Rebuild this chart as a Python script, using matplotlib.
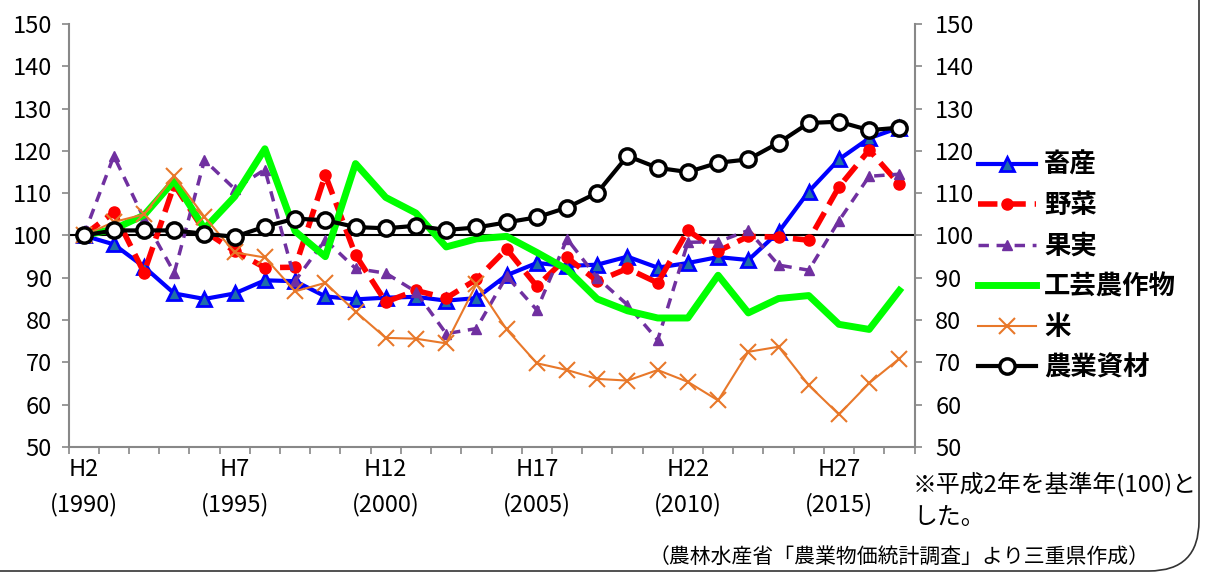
import numpy as np
import matplotlib
matplotlib.use('Agg')
import matplotlib.pyplot as plt
from matplotlib.patches import FancyBboxPatch
from matplotlib.transforms import IdentityTransform

years = list(range(1990, 2018))
xlabels = ['H2\n(1990)', 'H7\n(1995)', 'H12\n(2000)', 'H17\n(2005)', 'H22\n(2010)', 'H27\n(2015)']

chikusan = [100, 97.9, 92.6, 86.3, 85.0, 86.3, 89.4, 89.2, 85.6, 84.9, 85.3, 85.5, 84.6, 85.2,
            90.6, 93.5, 92.8, 93.1, 95.0, 92.4, 93.5, 94.9, 94.2, 100.8, 110.4, 118.0, 123.0, 125.5]
yasai = [100, 105.5, 91.2, 112.0, 101.0, 96.3, 92.4, 92.5, 114.3, 95.4, 84.3, 87.0, 85.2, 89.6,
         96.8, 88.0, 94.8, 89.2, 92.2, 88.8, 101.2, 96.3, 99.8, 99.6, 98.9, 111.5, 120.2, 112.1]
kajitsu = [100, 118.8, 104.0, 91.2, 117.8, 111.0, 115.6, 89.3, 99.0, 92.2, 91.1, 86.7, 76.8, 78.0,
           90.4, 82.4, 99.2, 90.0, 83.6, 75.3, 98.4, 98.5, 101.2, 93.0, 91.8, 103.5, 114.0, 114.5]
kougei = [100, 101.5, 104.8, 113.0, 101.6, 109.2, 120.5, 101.0, 95.0, 117.0, 109.0, 105.3, 97.3, 99.2,
          99.8, 96.0, 92.0, 85.0, 82.2, 80.5, 80.5, 90.6, 81.7, 85.1, 85.8, 79.0, 77.8, 87.0]
kome = [100, 103.2, 105.0, 114.0, 104.4, 96.0, 94.8, 86.8, 88.8, 82.0, 75.8, 75.6, 74.5, 88.5,
        77.8, 69.8, 68.2, 66.1, 65.7, 68.2, 65.4, 61.0, 72.5, 73.7, 64.6, 57.7, 65.1, 70.9]
shizai = [100, 101.2, 101.2, 101.2, 100.4, 99.7, 102.1, 104.0, 103.6, 102.0, 101.7, 102.3, 101.3, 101.9,
          103.1, 104.3, 106.6, 110.1, 118.8, 116.0, 115.0, 117.2, 118.0, 121.9, 126.6, 126.9, 124.9, 125.5]

jp_font = ['Noto Sans CJK JP', 'DejaVu Sans']
plt.rcParams['font.family'] = jp_font

fig = plt.figure(figsize=(12.05, 5.72), dpi=100)
ax = fig.add_axes([68.5 / 1205, 125 / 572, 846 / 1205, 423 / 572])
x = np.arange(len(years))

ax.axhline(100, color='black', lw=1.5, zorder=1)
ax.plot(x, chikusan, color='#0000FF', lw=3, marker='^', ms=10, mfc='#1f6fa8', mec='#0000FF', mew=2,
        label='畜産', zorder=3)
ax.plot(x, yasai, color='#FF0000', lw=4, dashes=(3.5, 1.6), marker='o', ms=8, mfc='#FF0000', mec='#FF0000',
        label='野菜', zorder=4)
ax.plot(x, kajitsu, color='#7030A0', lw=2.5, dashes=(3, 2.2), marker='^', ms=7, mfc='#7030A0', mec='#7030A0',
        label='果実', zorder=5)
ax.plot(x, kougei, color='#00FF00', lw=5, label='工芸農作物', zorder=6)
ax.plot(x, kome, color='#E8782A', lw=1.5, marker='x', ms=12, mew=1.5, label='米', zorder=7)
ax.plot(x, shizai, color='black', lw=3, marker='o', ms=11, mfc='white', mec='black', mew=2.5,
        label='農業資材', zorder=8)

ax.set_xlim(-0.5, len(years) - 0.5)
ax.set_ylim(50, 150)
ax.set_yticks(range(50, 151, 10))
ax.set_xticks([0, 5, 10, 15, 20, 25])
ax.set_xticklabels(xlabels, linespacing=1.6)
ax.set_xticks(np.arange(-0.5, len(years), 1), minor=True)
ax.tick_params(axis='x', which='major', length=0, pad=8, labelsize=17)
ax.tick_params(axis='x', which='minor', length=5, width=1.2, color='#888888', direction='out')
ax.tick_params(axis='y', length=5, width=1.2, color='#888888', direction='out', pad=7, labelsize=17)
for s in ['left', 'right', 'bottom']:
    ax.spines[s].set_color('#888888')
    ax.spines[s].set_linewidth(1.5)
ax.spines['top'].set_visible(False)

ax2 = ax.twinx()
ax2.set_ylim(50, 150)
ax2.set_yticks(range(50, 151, 10))
ax2.tick_params(axis='y', length=5, width=1.2, color='#888888', direction='out', pad=10, labelsize=17)
for s in ax2.spines.values():
    s.set_visible(False)

leg = fig.legend(*ax.get_legend_handles_labels(), loc='upper left',
                 bbox_to_anchor=(978 / 1205, 1 - 152 / 572), frameon=False,
                 prop={'family': jp_font, 'size': 19, 'weight': 'bold'},
                 handlelength=2.2, handletextpad=0.3, labelspacing=0.51,
                 borderpad=0, borderaxespad=0)

fig.text(913 / 1205, 1 - 484 / 572, '※平成2年を基準年(100)と', family=jp_font, fontsize=17.2,
         va='center', ha='left')
fig.text(913 / 1205, 1 - 518 / 572, 'した。', family=jp_font, fontsize=17.2, va='center', ha='left')
fig.text(1150 / 1205, 1 - 557 / 572, '（農林水産省「農業物価統計調査」より三重県作成）', family=jp_font,
         fontsize=15, va='center', ha='right')

frame = FancyBboxPatch((-60, 1), 1259, 800, boxstyle='round,pad=0,rounding_size=50',
                       transform=IdentityTransform(), fill=False, ec='#333333', lw=1.2)
fig.patches.append(frame)

fig.savefig('out.png', dpi=100)
